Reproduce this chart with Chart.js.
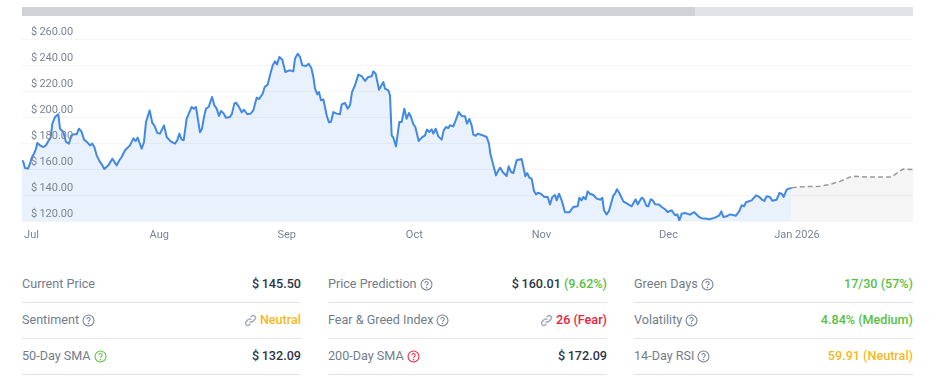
<!DOCTYPE html>
<html>
<head>
<meta charset="utf-8">
<script src="https://cdn.jsdelivr.net/npm/chart.js@4/dist/chart.umd.js"></script>
<style>
    html, body { margin: 0; padding: 0; background: #fff; width: 933px; height: 388px; overflow: hidden; font-family: Roboto, sans-serif; }
    .range { position: absolute; left: 22px; top: 7px; width: 891px; height: 9px; background: #e2e3e9; }
    .range div { width: 673px; height: 100%; background: #d1d2d7; }
    .chart { position: absolute; left: 22px; top: 20px; width: 891px; height: 230px; }
    .col { position: absolute; top: 267px; width: 279px; }
    .row { display: flex; justify-content: space-between; align-items: center; height: 36px; padding-bottom: 2px; box-sizing: border-box; border-bottom: 1px solid #e2e3ec; font-size: 12.6px; color: #727d8c; }
    .row b { font-weight: 500; color: #2b3648; }
    .row svg { vertical-align: -3px; margin-left: 3px; }
    .row .link { margin: 0 3px 0 0; }
    .green { color: #58c13f !important; }
    .yellow { color: #f5b81e !important; }
    .red { color: #ee2040 !important; }
</style>
</head>
<body>
<div class="range"><div></div></div>
<div class="chart"><canvas id="priceChart" width="891" height="230"></canvas></div>
<div id="stats"></div>
<script>
const monthLabels = ['Jul', 'Aug', 'Sep', 'Oct', 'Nov', 'Dec', 'Jan 2026'];
const monthTimes = [28.5, 411.6, 794, 1177, 1558, 1939.5, 2325];
const priceTicks = [120, 140, 160, 180, 200, 220, 240, 260];

const priceTimes = [
    0, 4, 9, 18, 24, 29, 37, 42, 46, 54, 64, 72, 79, 86, 91, 99, 109, 114, 124, 132,
    141, 148, 156, 164, 171, 179, 186, 196, 204, 211, 217, 224, 232, 239, 247, 259, 271, 284, 292, 299,
    309, 324, 334, 341, 347, 359, 366, 372, 383, 391, 397, 406, 414, 426, 434, 446, 459, 466, 472, 479,
    485, 494, 509, 516, 522, 534, 540, 546, 552, 560, 570, 577, 584, 591, 597, 604, 612, 624, 630, 637,
    642, 650, 659, 666, 676, 686, 694, 704, 711, 722, 728, 737, 744, 752, 759, 765, 772, 781, 790, 802,
    814, 819, 827, 834, 841, 852, 860, 868, 874, 879, 886, 891, 897, 904, 914, 921, 927, 934, 944, 954,
    959, 969, 977, 984, 990, 999, 1009, 1019, 1029, 1039, 1049, 1054, 1061, 1071, 1084, 1089, 1099, 1104, 1109, 1114,
    1122, 1132, 1139, 1147, 1154, 1161, 1167, 1174, 1180, 1190, 1199, 1209, 1215, 1222, 1229, 1234, 1241, 1249, 1259, 1265,
    1272, 1279, 1284, 1294, 1301, 1310, 1319, 1329, 1335, 1342, 1349, 1354, 1361, 1367, 1379, 1394, 1401, 1405, 1414, 1422,
    1429, 1435, 1442, 1454, 1460, 1467, 1474, 1484, 1499, 1504, 1510, 1516, 1522, 1529, 1536, 1542, 1549, 1559, 1567, 1577,
    1584, 1591, 1599, 1604, 1611, 1619, 1629, 1642, 1654, 1667, 1672, 1679, 1684, 1691, 1697, 1704, 1714, 1724, 1736, 1741,
    1746, 1754, 1761, 1767, 1774, 1779, 1785, 1792, 1804, 1819, 1829, 1841, 1847, 1859, 1864, 1874, 1879, 1886, 1892, 1899,
    1911, 1919, 1929, 1937, 1949, 1959, 1966, 1972, 1979, 1989, 2004, 2016, 2029, 2039, 2054, 2062, 2079, 2092, 2098, 2104,
    2114, 2124, 2142, 2152, 2159, 2166, 2172, 2189, 2202, 2212, 2219, 2227, 2234, 2244, 2251, 2264, 2272, 2279, 2285, 2294,
    2301, 2309
];
const priceValues = [
    166.7, 165.4, 160.8, 160.3, 164.1, 168.7, 172.3, 175.6, 180, 178.2, 176.9, 178.2, 181.5, 184.1, 194.9, 200, 202.1, 191, 188.5, 180.8,
    179.5, 185.9, 186.7, 186.7, 191, 188.5, 182.6, 180.5, 178.2, 179.5, 176.9, 170.5, 166.2, 163.6, 160, 162.8, 167.9, 162.8, 166.7, 169.2,
    174.4, 178.2, 183.6, 181.5, 184.1, 175.6, 180.8, 196.2, 205.1, 195.4, 193.6, 187.7, 187.2, 193.6, 184.6, 181.3, 179.5, 182.1, 187.2, 182.6,
    182.1, 198.7, 207.7, 206.4, 207.7, 188.2, 191, 200, 206.4, 207.7, 215.4, 209, 206.4, 200.8, 204.6, 203.1, 199.5, 200, 202.6, 210.3,
    211, 208.2, 203.6, 205.6, 202.1, 202.6, 205.1, 214.9, 213.8, 217.9, 223.1, 224.9, 232.1, 239.7, 242.8, 240.5, 246.2, 244.1, 234.6, 235.9,
    235.1, 244.9, 248.7, 246.2, 239.7, 239.2, 241, 237.7, 230.8, 221.8, 217.4, 219.2, 212.8, 213.6, 201.3, 195.9, 196.4, 203.8, 202.6, 202.1,
    209.7, 210.8, 206.4, 209, 219.2, 224.4, 232.6, 231.5, 227.7, 230.8, 231.3, 235.1, 233.3, 221, 226.9, 221.8, 220.5, 216.7, 185.9, 184.1,
    177.4, 196.2, 196.2, 206.4, 198.7, 203.1, 200, 194.4, 192.3, 181.5, 184.1, 185.9, 190.3, 188.5, 190.5, 187.2, 191, 185.1, 182.6, 189.7,
    192.3, 191.5, 193.6, 192.8, 197.4, 203.8, 200.8, 200.5, 194.9, 198.5, 193.6, 186.4, 185.6, 187.2, 186.2, 184.6, 179.5, 171.8, 162.8, 155.1,
    159, 161, 157.7, 154.6, 162.1, 157.7, 156.9, 166.7, 167.7, 161.5, 154.4, 156.9, 153.3, 152.6, 143.1, 140.5, 141.8, 140.5, 138.5, 138.5,
    132.8, 138.5, 140, 135.9, 141, 135.9, 126.7, 126.7, 130.8, 131.3, 137.9, 135.9, 138.5, 136.7, 142.8, 141, 140, 137.2, 136.4, 137.9,
    128.2, 125.1, 127.7, 133.3, 139.7, 141, 144.4, 141.5, 135.1, 132.8, 131.3, 136.7, 132.8, 137.9, 137.2, 131.5, 131.3, 136.7, 135.9, 132.8,
    132.6, 130.8, 129, 126.9, 128.2, 124.4, 125.1, 120.5, 125.6, 126.2, 124.9, 126.9, 123.6, 122.1, 121.8, 121.3, 122.6, 124.4, 127.4, 123.1,
    123.6, 125.1, 124.1, 127.7, 132.1, 131.3, 134.4, 135.9, 139.7, 138.5, 136.7, 135.4, 139, 138.5, 135.6, 136.4, 141.5, 141, 138.5, 144.1,
    144.9, 145.5
];

const forecastTimes = [2309, 2344, 2394, 2424, 2454, 2484, 2499, 2534, 2609, 2629, 2644, 2673];
const forecastValues = [145.5, 146.4, 146.7, 148.2, 150.5, 153.8, 154.4, 153.8, 153.8, 157.7, 160, 159.5];

const statColumns = [
    [
        ['Current Price', '', '$\u2009145.50', ''],
        ['Sentiment', 'help', 'Neutral', 'yellow link'],
        ['50-Day SMA', 'help green', '$\u2009132.09', '']
    ],
    [
        ['Price Prediction', 'help', '$\u2009160.01 <b class="green">(9.62%)</b>', ''],
        ['Fear &amp; Greed Index', 'help', '26 (Fear)', 'red link'],
        ['200-Day SMA', 'help red', '$\u2009172.09', '']
    ],
    [
        ['Green Days', 'help', '17/30 (57%)', 'green'],
        ['Volatility', 'help', '4.84% (Medium)', 'green'],
        ['14-Day RSI', 'help', '59.91 (Neutral)', 'yellow']
    ]
];

const helpIcon = (cls) => `<svg class="${cls}" width="13" height="13" viewBox="0 0 14 14" fill="none" stroke="currentColor" stroke-width="1.1">
    <circle cx="7" cy="7" r="5.9"/><path d="M5.2 5.6a1.8 1.8 0 1 1 2.6 1.6c-.6.3-.8.6-.8 1.2"/><circle cx="7" cy="10.2" r=".35"/></svg>`;
const linkIcon = `<svg class="link" width="13" height="13" viewBox="0 0 14 14" fill="none" stroke="#a8adb5" stroke-width="1.6">
    <path d="M6 8a2.4 2.4 0 0 0 3.4 0l2.2-2.2a2.4 2.4 0 0 0-3.4-3.4L7.2 3.4"/><path d="M8 6a2.4 2.4 0 0 0-3.4 0L2.4 8.2a2.4 2.4 0 0 0 3.4 3.4l1-1"/></svg>`;

// stats table
const stats = document.getElementById('stats');

statColumns.forEach((rows, index) => {
    const col = document.createElement('div');
    col.className = 'col';
    col.style.left = (22 + index * 306) + 'px';
    col.innerHTML = rows.map(([label, help, value, cls]) => {
        const icon = help ? helpIcon(help.replace('help', '').trim()) : '';
        const link = cls.includes('link') ? linkIcon : '';
        return `<div class="row"><span>${label}${icon}</span><span>${link}<b class="${cls.replace('link', '').trim()}">${value}</b></span></div>`;
    }).join('');
    stats.appendChild(col);
});

// price chart
new Chart(document.getElementById('priceChart'), {
    type: 'line',
    data: {
        datasets: [{
            data: priceTimes.map((t, i) => ({x: t, y: priceValues[i]})),
            borderColor: '#4189e2',
            backgroundColor: '#e9f1fc',
            borderWidth: 2,
            borderJoinStyle: 'round',
            pointRadius: 0,
            tension: 0,
            fill: 'start'
        }, {
            data: forecastTimes.map((t, i) => ({x: t, y: forecastValues[i]})),
            borderColor: '#9a9a9a',
            backgroundColor: '#f5f5f5',
            borderWidth: 1.5,
            borderDash: [5, 3],
            pointRadius: 0,
            tension: 0,
            fill: 'start'
        }]
    },
    options: {
        responsive: false,
        animation: false,
        layout: {
            padding: {top: 19}
        },
        plugins: {
            legend: {display: false},
            tooltip: {enabled: false}
        },
        scales: {
            x: {
                type: 'linear',
                min: 0,
                max: 2673,
                border: {display: false},
                grid: {display: false},
                afterBuildTicks: (scale) => {
                    scale.ticks = monthTimes.map((value) => ({value: value}));
                },
                afterFit: (scale) => {
                    scale.height = 29;
                },
                ticks: {
                    autoSkip: false,
                    maxRotation: 0,
                    padding: 0,
                    color: '#7b8494',
                    font: {family: 'Roboto', size: 11},
                    callback: (value) => monthLabels[monthTimes.indexOf(value)]
                }
            },
            y: {
                min: 120,
                max: 260,
                border: {display: false},
                grid: {color: 'rgba(100, 110, 140, 0.07)', drawTicks: false, z: 1},
                afterBuildTicks: (scale) => {
                    scale.ticks = priceTicks.map((value) => ({value: value}));
                },
                afterFit: (scale) => {
                    scale.width = 0;
                },
                ticks: {
                    z: 1,
                    mirror: true,
                    padding: 9,
                    labelOffset: -7,
                    color: '#7b8494',
                    font: {family: 'Roboto', size: 11},
                    callback: (value) => '$\u2009' + value.toFixed(2)
                }
            }
        }
    }
});
</script>
</body>
</html>
